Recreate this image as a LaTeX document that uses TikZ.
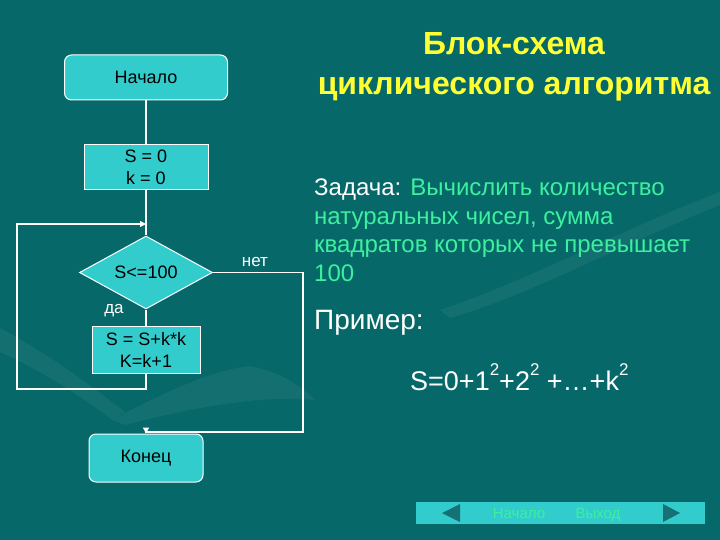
\documentclass[tikz,border=0pt]{standalone}
\usepackage{fontspec}
\setmainfont{Liberation Sans}
\usetikzlibrary{shapes.geometric,arrows.meta}
\definecolor{fon}{RGB}{6,104,104}
\definecolor{goluboy}{RGB}{51,204,204}
\definecolor{zheltyy}{RGB}{255,255,51}
\definecolor{zelenyy}{RGB}{60,240,160}
\definecolor{temnyy}{RGB}{22,112,116}
\begin{document}
\begin{tikzpicture}[x=1pt,y=-1pt,line cap=butt,line join=miter,>={Triangle[length=6pt,width=6pt]},
	blok/.style={draw=white,fill=goluboy,line width=1pt,text=black,align=center,inner sep=0pt,
		font=\fontsize{18}{22}\selectfont},
	term/.style={blok,rounded corners=7pt},
	usl/.style={blok,diamond,minimum width=133pt,minimum height=73pt,shape aspect=1.8},
	lin/.style={draw=white,line width=1.2pt},
	metka/.style={text=white,inner sep=0pt,font=\fontsize{17}{18}\selectfont},
	knopka/.style={text=zelenyy,inner sep=0pt,anchor=base,font=\fontsize{15}{18}\selectfont}]
	% фон
	\fill[fon] (0,0) rectangle (720,540);
	\fill[white,opacity=.06] (0,328) .. controls (50,355) and (90,385) .. (125,412) -- (112,420) .. controls (80,395) and (40,370) .. (0,352) -- cycle;
	\fill[white,opacity=.06] (112,420) .. controls (160,395) and (210,370) .. (250,366) .. controls (280,372) and (300,385) .. (315,400) .. controls (270,395) and (200,405) .. (125,425) -- cycle;
	\fill[white,opacity=.06] (440,310) .. controls (530,280) and (620,230) .. (720,192) -- (720,205) .. controls (620,245) and (530,295) .. (450,318) -- cycle;
	% блок-схема
	\node[term,minimum width=163pt,minimum height=45pt] (nach) at (146,77.5) {Начало};
	\node[blok,minimum width=124pt,minimum height=45pt] (init) at (146,167.5) {S = 0\\k = 0};
	\node[usl] (usl) at (146,272.5) {S<=100};
	\node[blok,minimum width=108pt,minimum height=47pt] (telo) at (146,349.5) {S = S+k*k\\K=k+1};
	\node[term,minimum width=114pt,minimum height=48pt] (kon) at (146,458) {Конец};
	\coordinate (vh) at (146,224);
	\coordinate (obhod) at (17,389);
	\coordinate (vyh) at (303,432);
	\draw[lin] (nach) -- (init);
	\draw[lin] (init) -- (usl);
	\draw[lin] (usl) -- (telo);
	\draw[lin,->] (telo.south) |- (obhod) |- (vh);
	\draw[lin,->] (usl.east) -| (vyh) -| (kon.north);
	\node[metka] (net) at (255,262) {нет};
	\node[metka] (da) at (114,311) {да};
	% текст
	\node[text=zheltyy,align=center,font=\fontsize{32}{40}\bfseries] (zag) at (514,67) {Блок-схема\\циклического алгоритма};
	\node[anchor=north west,align=left,inner sep=0pt,text=zelenyy,font=\fontsize{24}{28.5}\selectfont] (zad) at (314,179)
		{\textcolor{white}{Задача:} Вычислить количество\\натуральных чисел, сумма\\квадратов которых не превышает\\100};
	\node[anchor=west,inner sep=0pt,text=white,font=\fontsize{28}{30}\selectfont] (prim) at (314,323) {Пример:};
	\node[anchor=west,inner sep=0pt,text=white,font=\fontsize{27}{30}\selectfont] (formula) at (410,377)
		{S=0+1\raisebox{.55em}{\fontsize{17}{18}\selectfont 2}+2\raisebox{.55em}{\fontsize{17}{18}\selectfont 2} +…+k\raisebox{.55em}{\fontsize{17}{18}\selectfont 2}};
	% навигация
	\node[fill=goluboy,minimum width=289pt,minimum height=22pt,inner sep=0pt] (panel) at (560.5,513) {};
	\fill[temnyy] (442,513) -- (460,504) -- (460,522) -- cycle;
	\fill[temnyy] (680,513) -- (663,504) -- (663,522) -- cycle;
	\node[knopka] (vnach) at (519,518.5) {Начало};
	\node[knopka] (vyhod) at (598,518.5) {Выход};
\end{tikzpicture}
\end{document}
